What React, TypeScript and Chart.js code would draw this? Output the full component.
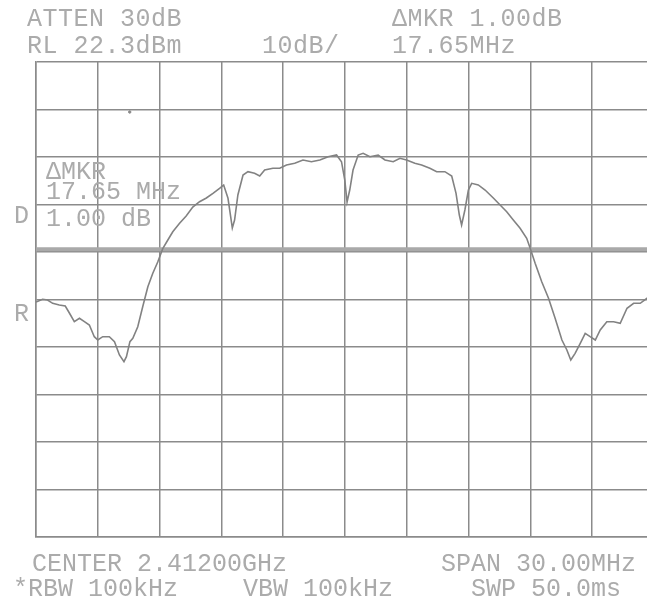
import React, { useEffect, useRef } from "react";
import { Chart, registerables } from "chart.js";

Chart.register(...registerables);

// Spectrum analyzer trace (frequency in MHz, level in dBm)
const FREQ_MHZ = [
  2397.0, 2397.32, 2397.56, 2397.81, 2398.13, 2398.42, 2398.62, 2398.86, 2399.11, 2399.35,
  2399.59, 2399.83, 2400.0, 2400.24, 2400.56, 2400.81, 2401.05, 2401.27, 2401.39, 2401.56,
  2401.7, 2401.94, 2402.18, 2402.43, 2402.67, 2402.91, 2403.16, 2403.4, 2403.64, 2403.97,
  2404.29, 2404.61, 2404.94, 2405.27, 2405.59, 2405.91, 2406.11, 2406.32, 2406.53, 2406.64,
  2406.8, 2407.05, 2407.29, 2407.61, 2407.86, 2408.1, 2408.5, 2408.83, 2409.16, 2409.56,
  2409.96, 2410.37, 2410.78, 2411.18, 2411.59, 2411.83, 2411.99, 2412.1, 2412.23, 2412.39,
  2412.64, 2412.88, 2413.21, 2413.61, 2413.94, 2414.34, 2414.67, 2414.99, 2415.39, 2415.72,
  2416.12, 2416.45, 2416.85, 2417.18, 2417.39, 2417.55, 2417.66, 2417.82, 2417.99, 2418.15,
  2418.47, 2418.8, 2419.2, 2419.53, 2419.85, 2420.17, 2420.5, 2420.82, 2420.99, 2421.23,
  2421.55, 2421.88, 2422.2, 2422.53, 2422.77, 2422.96, 2423.17, 2423.42, 2423.66, 2423.9,
  2424.15, 2424.39, 2424.71, 2425.04, 2425.36, 2425.69, 2426.01, 2426.33, 2426.66, 2427.0,
];

const LEVEL_DBM = [
  -28.23, -27.66, -27.81, -28.5, -28.86, -29.07, -30.54, -32.37, -31.66, -32.37,
  -33.07, -35.53, -36.23, -35.53, -35.53, -36.58, -39.38, -40.79, -39.74, -36.58,
  -35.87, -33.43, -29.22, -25.01, -22.18, -19.81, -16.92, -15.17, -13.43, -11.66,
  -10.12, -8.23, -7.11, -6.33, -5.34, -4.29, -3.59, -6.39, -12.65, -10.96,
  -5.7, -1.49, -0.79, -1.13, -1.7, -0.44, -0.08, -0.08, 0.62, 0.97,
  1.67, 1.31, 1.67, 2.36, 2.72, 1.31, -2.54, -7.17, -4.65, -0.44,
  2.72, 3.08, 2.36, 2.72, 1.67, 1.31, 2.03, 1.67, 0.97, 0.62,
  -0.08, -0.79, -0.79, -1.7, -5.34, -9.91, -12.02, -8.86, -4.65, -3.24,
  -3.59, -4.65, -6.33, -7.81, -9.22, -10.96, -12.71, -14.82, -16.92, -20.08,
  -23.95, -27.45, -31.66, -36.23, -38.33, -40.44, -39.03, -36.92, -34.82, -35.53,
  -36.23, -34.12, -32.37, -32.37, -32.71, -29.55, -28.5, -28.5, -27.45, -26.96,
];

const DISPLAY_LINE_DBM = [-17.1, -17.1];
const DISPLAY_LINE_FREQ = [2397.0, 2427.0];

const STRAY_DOT_FREQ = [2401.55];
const STRAY_DOT_DBM = [11.77];

const CENTER_MHZ = 2412.0;
const SPAN_MHZ = 30.0;
const REF_LEVEL_DBM = 22.3;
const DB_PER_DIV = 10;
const DIVISIONS = 10;

const HEADER_LEFT = ["ATTEN 30dB", "RL 22.3dBm"];
const HEADER_SCALE = "10dB/";
const HEADER_RIGHT = ["\u0394MKR 1.00dB", "17.65MHz"];
const MARKER_READOUT = ["\u0394MKR", "17.65 MHz", "1.00 dB"];
const SIDE_LABELS = ["D", "R"];
const FOOTER_LEFT = ["CENTER 2.41200GHz", "*RBW 100kHz"];
const FOOTER_MID = "VBW 100kHz";
const FOOTER_RIGHT = ["SPAN 30.00MHz", "SWP 50.0ms"];

const GRID = "#8b8b8b";
const TEXT = "#ababab";

const textStyle = (left: number, top: number, spacing = 0): React.CSSProperties => ({
  position: "absolute",
  left,
  top,
  fontFamily: "'Liberation Mono', 'DejaVu Sans Mono', monospace",
  fontSize: 25,
  lineHeight: "25px",
  letterSpacing: spacing,
  color: TEXT,
  whiteSpace: "pre",
});

export default function App() {
  const canvasRef = useRef<HTMLCanvasElement | null>(null);

  useEffect(() => {
    if (!canvasRef.current) return;
    const xMin = CENTER_MHZ - SPAN_MHZ / 2;
    const xMax = CENTER_MHZ + SPAN_MHZ / 2;
    const yMax = REF_LEVEL_DBM;
    const yMin = REF_LEVEL_DBM - DB_PER_DIV * DIVISIONS;
    const gridOpts = { color: GRID, lineWidth: 1.5, drawTicks: false };
    const borderOpts = { display: true, color: GRID, width: 1.5 };

    const chart = new Chart(canvasRef.current, {
      type: "line",
      data: {
        datasets: [
          {
            label: "Trace",
            data: FREQ_MHZ.map((f, i) => ({ x: f, y: LEVEL_DBM[i] })),
            borderColor: "#828282",
            borderWidth: 1.6,
            pointRadius: 0,
            tension: 0,
            order: 1,
          },
          {
            label: "Display line",
            data: DISPLAY_LINE_FREQ.map((f, i) => ({ x: f, y: DISPLAY_LINE_DBM[i] })),
            borderColor: "#a9a9a9",
            borderWidth: 4,
            pointRadius: 0,
            order: 2,
          },
          {
            label: "Dot",
            data: STRAY_DOT_FREQ.map((f, i) => ({ x: f, y: STRAY_DOT_DBM[i] })),
            borderColor: "#8a8a8a",
            backgroundColor: "#8a8a8a",
            showLine: false,
            pointRadius: 1.2,
            order: 0,
          },
        ],
      },
      options: {
        responsive: false,
        animation: false,
        layout: { padding: { left: 36, top: 62, right: 26, bottom: 65 } },
        plugins: { legend: { display: false }, tooltip: { enabled: false } },
        scales: {
          x: {
            type: "linear",
            min: xMin,
            max: xMax,
            ticks: { display: false, stepSize: SPAN_MHZ / DIVISIONS },
            grid: gridOpts,
            border: borderOpts,
          },
          y: {
            type: "linear",
            min: yMin,
            max: yMax,
            ticks: { display: false, stepSize: DB_PER_DIV },
            grid: gridOpts,
            border: borderOpts,
          },
        },
      },
    });
    return () => chart.destroy();
  }, []);

  return (
    <div
      style={{
        position: "fixed",
        left: 0,
        top: 0,
        width: 647,
        height: 602,
        overflow: "hidden",
        background: "#ffffff",
      }}
    >
      <canvas
        ref={canvasRef}
        width={680}
        height={602}
        style={{ position: "absolute", left: 0, top: 0, width: 680, height: 602 }}
      />
      <div style={textStyle(27, 7, 0.5)}>{HEADER_LEFT[0]}</div>
      <div style={textStyle(27, 34, 0.5)}>{HEADER_LEFT[1]}</div>
      <div style={textStyle(262, 34, 0.5)}>{HEADER_SCALE}</div>
      <div style={textStyle(392, 7, 0.5)}>{HEADER_RIGHT[0]}</div>
      <div style={textStyle(392, 34, 0.5)}>{HEADER_RIGHT[1]}</div>

      <div style={textStyle(46, 160)}>{MARKER_READOUT[0]}</div>
      <div style={textStyle(46, 180)}>{MARKER_READOUT[1]}</div>
      <div style={textStyle(46, 207)}>{MARKER_READOUT[2]}</div>

      <div style={textStyle(14, 204)}>{SIDE_LABELS[0]}</div>
      <div style={textStyle(14, 302)}>{SIDE_LABELS[1]}</div>

      <div style={textStyle(32, 552)}>{FOOTER_LEFT[0]}</div>
      <div style={textStyle(13, 577)}>{FOOTER_LEFT[1]}</div>
      <div style={textStyle(243, 577)}>{FOOTER_MID}</div>
      <div style={textStyle(441, 552)}>{FOOTER_RIGHT[0]}</div>
      <div style={textStyle(471, 577)}>{FOOTER_RIGHT[1]}</div>
    </div>
  );
}
